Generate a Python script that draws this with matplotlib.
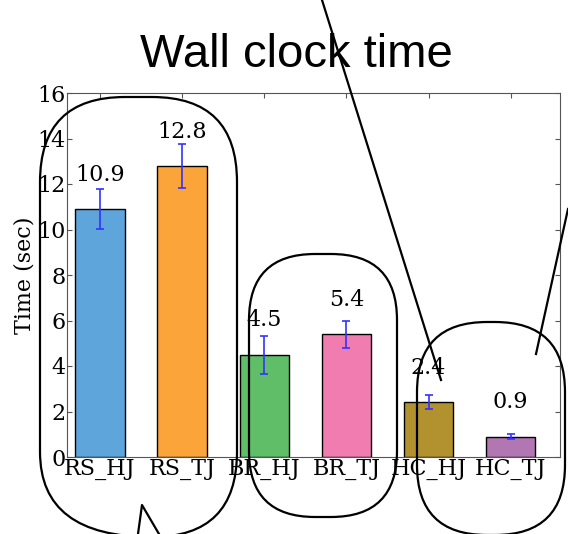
import numpy as np
import matplotlib
matplotlib.use('Agg')
import matplotlib.pyplot as plt
from matplotlib.patches import FancyBboxPatch

# data
methods = ['RS_HJ', 'RS_TJ', 'BR_HJ', 'BR_TJ', 'HC_HJ', 'HC_TJ']
times   = [10.9, 12.8, 4.5, 5.4, 2.4, 0.9]
errors  = [0.88, 0.96, 0.84, 0.60, 0.31, 0.13]
colors  = ['#5DA5DA', '#FAA43A', '#60BD68', '#F17CB0', '#B2912F', '#B276B2']

W, H = 568, 534
fig = plt.figure(figsize=(W / 100, H / 100), dpi=100)
ax = fig.add_axes([67 / W, 1 - 457 / H, (560 - 67) / W, (457 - 93) / H])

x = np.arange(len(methods))
ax.bar(x, times, width=0.6, color=colors, edgecolor='black', linewidth=1, zorder=2)
ax.errorbar(x, times, yerr=errors, fmt='none', ecolor='#3333ff', elinewidth=1.2,
            capsize=3, capthick=1.2, zorder=3)

for xi, t in zip(x, times):
    ax.text(xi, t + 1.5, f'{t:.1f}', ha='center', va='center',
            family='DejaVu Serif', fontsize=16)

ax.set_xlim(-0.4, 5.6)
ax.set_ylim(0, 16)
ax.set_yticks(range(0, 17, 2))
ax.set_xticks(x)
ax.set_xticklabels(methods)
ax.tick_params(direction='in', top=True, right=True, labelsize=16, pad=1, color='#555555')
for lbl in ax.get_xticklabels() + ax.get_yticklabels():
    lbl.set_family('DejaVu Serif')
for sp in ax.spines.values():
    sp.set_color('#555555')
ax.set_ylabel('Time (sec)', family='DejaVu Serif', fontsize=16, labelpad=1)

fig.text(296 / W, 1 - 55 / H, 'Wall clock time', ha='center', va='center',
         family='Liberation Sans', fontsize=34)

# overlay scribbles in pixel coords
ov = fig.add_axes([0, 0, 1, 1], facecolor='none')
ov.set_xlim(0, W)
ov.set_ylim(H, 0)
ov.axis('off')

boxes = [(40, 97, 197, 440, 85), (249, 254, 148, 263, 66), (417, 322, 148, 213, 70)]
for bx, by, bw, bh, r in boxes:
    ov.add_patch(FancyBboxPatch((bx, by), bw, bh, boxstyle=f'round,pad=0,rounding_size={r}',
                                fill=False, edgecolor='black', linewidth=1.6, clip_on=False))

ov.plot([138, 142, 159], [534, 505, 534], color='black', lw=1.6, clip_on=False)
ov.plot([322, 441], [0, 380], color='black', lw=1.6, clip_on=False)
ov.plot([568, 536], [209, 354], color='black', lw=1.6, clip_on=False)

fig.savefig('out.png', dpi=100)
